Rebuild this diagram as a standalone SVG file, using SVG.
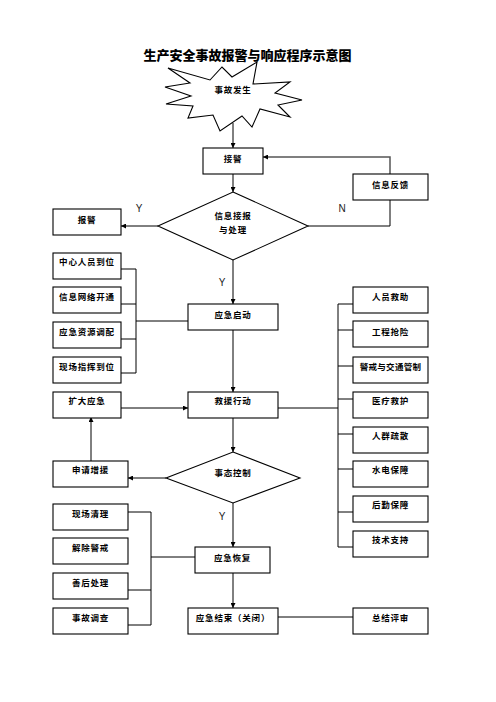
<svg xmlns="http://www.w3.org/2000/svg" width="496" height="702" viewBox="0 0 496 702">
<defs>
<style>
.b{fill:#fff;stroke:#000;stroke-width:1.1}
.l{fill:none;stroke:#000;stroke-width:1}
.t{font-family:"Noto Sans CJK SC","Noto Sans CJK TC",sans-serif;font-size:8.5px;font-weight:bold;text-anchor:middle;fill:#000;letter-spacing:0.8px}
.yn{font-family:"Liberation Sans",Arial,sans-serif;font-size:10px;text-anchor:middle;fill:#222}
</style>
<marker id="a" viewBox="0 0 10 10" refX="10" refY="5" markerWidth="5" markerHeight="5" orient="auto" markerUnits="userSpaceOnUse">
<path d="M0,0 L10,5 L0,10 z" fill="#000"/>
</marker>
</defs>
<rect width="496" height="702" fill="#fff"/>
<text x="247.5" y="60" style="font-family:'Noto Sans CJK SC',sans-serif;font-size:13px;font-weight:900;text-anchor:middle">生产安全事故报警与响应程序示意图</text>

<g id="connectors">
<path class="l" d="M233,123 V148" marker-end="url(#a)"/>
<path class="l" d="M233,174 V192" marker-end="url(#a)"/>
<path class="l" d="M158,226 H121" marker-end="url(#a)"/>
<path d="M390,174 V157 H263" fill="none" stroke="#555" stroke-width="1.5" marker-end="url(#a)"/>
<path class="l" d="M308,226 H390 V200"/>
<path class="l" d="M233,260 V304" marker-end="url(#a)"/>
<path class="l" d="M233,330 V392" marker-end="url(#a)"/>
<path class="l" d="M121,269 H136 M121,304 H136 M121,339 H136 M121,373 H136 M136,269 V373 M136,321 H188"/>
<path class="l" d="M278,408 H338 M338,304 V547 M338,304 H353 M338,330 H353 M338,366 H353 M338,399 H353 M338,434 H353 M338,469 H353 M338,512 H353 M338,547 H353"/>
<path class="l" d="M121,408 H188" marker-end="url(#a)"/>
<path class="l" d="M233,417 V452" marker-end="url(#a)"/>
<path class="l" d="M166,478 H128" marker-end="url(#a)"/>
<path class="l" d="M91,461 V417" marker-end="url(#a)"/>
<path class="l" d="M233,503 V547" marker-end="url(#a)"/>
<path class="l" d="M128,512 H151 M128,590 H151 M128,625 H151 M151,512 V625 M151,557 H195"/>
<path class="l" d="M233,573 V608" marker-end="url(#a)"/>
<path class="l" d="M278,617 H353"/>
<text class="yn" x="139" y="212">Y</text>
<text class="yn" x="342" y="212">N</text>
<text class="yn" x="222" y="286">Y</text>
<text class="yn" x="222" y="520">Y</text>
</g>

<g id="start">
<polygon class="b" points="168,68 210,80 222,67 232,77 257,62 253,84 290,82 275,93 302,100 278,105 290,117 260,109 252,127 242,116 220,131 213,115 188,118 193,106 166,104 191,96 165,87 190,83"/>
<text class="t" x="233" y="93">事故发生</text>
</g>
<g id="jiejing"><rect class="b" x="203" y="148" width="60" height="26"/><text class="t" x="233" y="162">接警</text></g>
<g id="fankui"><rect class="b" x="353" y="174" width="75" height="26"/><text class="t" x="390.5" y="188">信息反馈</text></g>
<g id="decision1"><polygon class="b" points="233,192 308,226 233,260 158,226"/><text class="t" x="233" y="219">信息接报</text><text class="t" x="233" y="233">与处理</text></g>
<g id="baojing"><rect class="b" x="53" y="209" width="68" height="26"/><text class="t" x="87" y="223">报警</text></g>

<g id="l1"><rect class="b" x="53" y="253" width="68" height="26"/><text class="t" x="87" y="265">中心人员到位</text></g>
<g id="l2"><rect class="b" x="53" y="287" width="68" height="26"/><text class="t" x="87" y="300">信息网络开通</text></g>
<g id="l3"><rect class="b" x="53" y="322" width="68" height="26"/><text class="t" x="87" y="335">应急资源调配</text></g>
<g id="l4"><rect class="b" x="53" y="357" width="68" height="26"/><text class="t" x="87" y="370">现场指挥到位</text></g>
<g id="qidong"><rect class="b" x="188" y="304" width="90" height="26"/><text class="t" x="233" y="318">应急启动</text></g>

<g id="r1"><rect class="b" x="353" y="287" width="75" height="26"/><text class="t" x="390.5" y="300">人员救助</text></g>
<g id="r2"><rect class="b" x="353" y="321" width="75" height="26"/><text class="t" x="390.5" y="335">工程抢险</text></g>
<g id="r3"><rect class="b" x="353" y="357" width="75" height="26"/><text class="t" x="390.5" y="370" style="letter-spacing:0.3px">警戒与交通管制</text></g>
<g id="r4"><rect class="b" x="353" y="392" width="75" height="26"/><text class="t" x="390.5" y="404">医疗救护</text></g>
<g id="r5"><rect class="b" x="353" y="427" width="75" height="26"/><text class="t" x="390.5" y="439">人群疏散</text></g>
<g id="r6"><rect class="b" x="353" y="461" width="75" height="26"/><text class="t" x="390.5" y="473">水电保障</text></g>
<g id="r7"><rect class="b" x="353" y="496" width="75" height="26"/><text class="t" x="390.5" y="508">后勤保障</text></g>
<g id="r8"><rect class="b" x="353" y="531" width="75" height="26"/><text class="t" x="390.5" y="543">技术支持</text></g>

<g id="kuoda"><rect class="b" x="53" y="392" width="68" height="26"/><text class="t" x="87" y="404">扩大应急</text></g>
<g id="jiuyuan"><rect class="b" x="188" y="392" width="90" height="26"/><text class="t" x="233" y="404">救援行动</text></g>
<g id="decision2"><polygon class="b" points="233,452 300,478 233,503 166,478"/><text class="t" x="233" y="476">事态控制</text></g>
<g id="zengyuan"><rect class="b" x="53" y="461" width="75" height="26"/><text class="t" x="90.5" y="473">申请增援</text></g>

<g id="b1"><rect class="b" x="53" y="504" width="75" height="26"/><text class="t" x="90.5" y="517">现场清理</text></g>
<g id="b2"><rect class="b" x="53" y="538" width="75" height="26"/><text class="t" x="90.5" y="551">解除警戒</text></g>
<g id="b3"><rect class="b" x="53" y="573" width="75" height="26"/><text class="t" x="90.5" y="586">善后处理</text></g>
<g id="b4"><rect class="b" x="53" y="608" width="75" height="26"/><text class="t" x="90.5" y="621">事故调查</text></g>
<g id="huifu"><rect class="b" x="195" y="547" width="75" height="26"/><text class="t" x="232.5" y="561">应急恢复</text></g>
<g id="jieshu"><rect class="b" x="188" y="608" width="90" height="26"/><text class="t" x="233" y="621">应急结束（关闭）</text></g>
<g id="pingshen"><rect class="b" x="353" y="608" width="75" height="26"/><text class="t" x="390.5" y="621">总结评审</text></g>
</svg>
